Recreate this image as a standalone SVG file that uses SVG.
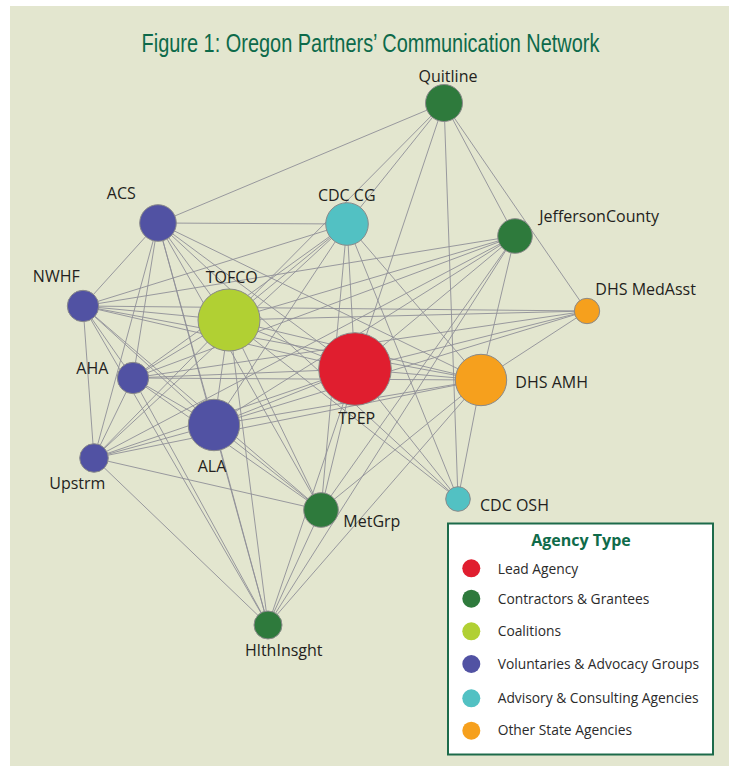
<svg xmlns="http://www.w3.org/2000/svg" width="729" height="766" viewBox="0 0 729 766">
<style>
.e{stroke:#8e8f97;stroke-width:0.9;fill:none}
.n{stroke:#8a8a8a;stroke-width:1}
.lbl{font-family:"Open Sans","Noto Sans","Liberation Sans",sans-serif;font-size:16px;fill:#231f20}
.leg{font-family:"Open Sans","Noto Sans","Liberation Sans",sans-serif;font-size:13.8px;fill:#2b2b2b}
.red{fill:#e01e2f}.dg{fill:#2e7a3c}.lime{fill:#b1d033}.blue{fill:#5152a3}.cyan{fill:#52c1c3}.org{fill:#f6a01d}
</style>
<rect x="10" y="6" width="719" height="760" fill="#e3e6cf"/>
<text transform="translate(370.5,52) scale(0.767,1)" x="0" y="0" text-anchor="middle" font-family="'Liberation Sans',Arial,sans-serif" font-size="26" fill="#0d6a4a">Figure 1: Oregon Partners’ Communication Network</text>
<g id="connectors">
<line class="e" x1="444" y1="103" x2="158" y2="223"/>
<line class="e" x1="444" y1="103" x2="347" y2="224"/>
<line class="e" x1="444" y1="103" x2="229" y2="320"/>
<line class="e" x1="444" y1="103" x2="355" y2="369"/>
<line class="e" x1="444" y1="103" x2="458" y2="499"/>
<line class="e" x1="444" y1="103" x2="515" y2="236"/>
<line class="e" x1="444" y1="103" x2="587" y2="311"/>
<line class="e" x1="158" y1="223" x2="347" y2="224"/>
<line class="e" x1="158" y1="223" x2="83" y2="306"/>
<line class="e" x1="158" y1="223" x2="133" y2="378"/>
<line class="e" x1="158" y1="223" x2="94" y2="458"/>
<line class="e" x1="158" y1="223" x2="214" y2="425"/>
<line class="e" x1="158" y1="223" x2="229" y2="320"/>
<line class="e" x1="158" y1="223" x2="355" y2="369"/>
<line class="e" x1="158" y1="223" x2="481" y2="380"/>
<line class="e" x1="158" y1="223" x2="458" y2="499"/>
<line class="e" x1="158" y1="223" x2="268" y2="625"/>
<line class="e" x1="158" y1="223" x2="321" y2="510"/>
<line class="e" x1="83" y1="306" x2="347" y2="224"/>
<line class="e" x1="83" y1="306" x2="229" y2="320"/>
<line class="e" x1="83" y1="306" x2="355" y2="369"/>
<line class="e" x1="83" y1="306" x2="481" y2="380"/>
<line class="e" x1="83" y1="306" x2="587" y2="311"/>
<line class="e" x1="83" y1="306" x2="133" y2="378"/>
<line class="e" x1="83" y1="306" x2="94" y2="458"/>
<line class="e" x1="83" y1="306" x2="214" y2="425"/>
<line class="e" x1="83" y1="306" x2="321" y2="510"/>
<line class="e" x1="83" y1="306" x2="268" y2="625"/>
<line class="e" x1="83" y1="306" x2="515" y2="236"/>
<line class="e" x1="229" y1="320" x2="347" y2="224"/>
<line class="e" x1="229" y1="320" x2="355" y2="369"/>
<line class="e" x1="229" y1="320" x2="481" y2="380"/>
<line class="e" x1="229" y1="320" x2="515" y2="236"/>
<line class="e" x1="229" y1="320" x2="587" y2="311"/>
<line class="e" x1="229" y1="320" x2="133" y2="378"/>
<line class="e" x1="229" y1="320" x2="214" y2="425"/>
<line class="e" x1="229" y1="320" x2="94" y2="458"/>
<line class="e" x1="229" y1="320" x2="321" y2="510"/>
<line class="e" x1="229" y1="320" x2="268" y2="625"/>
<line class="e" x1="229" y1="320" x2="458" y2="499"/>
<line class="e" x1="347" y1="224" x2="133" y2="378"/>
<line class="e" x1="347" y1="224" x2="214" y2="425"/>
<line class="e" x1="347" y1="224" x2="94" y2="458"/>
<line class="e" x1="347" y1="224" x2="355" y2="369"/>
<line class="e" x1="347" y1="224" x2="481" y2="380"/>
<line class="e" x1="347" y1="224" x2="458" y2="499"/>
<line class="e" x1="347" y1="224" x2="321" y2="510"/>
<line class="e" x1="515" y1="236" x2="355" y2="369"/>
<line class="e" x1="515" y1="236" x2="481" y2="380"/>
<line class="e" x1="515" y1="236" x2="214" y2="425"/>
<line class="e" x1="515" y1="236" x2="133" y2="378"/>
<line class="e" x1="515" y1="236" x2="94" y2="458"/>
<line class="e" x1="515" y1="236" x2="321" y2="510"/>
<line class="e" x1="515" y1="236" x2="268" y2="625"/>
<line class="e" x1="587" y1="311" x2="355" y2="369"/>
<line class="e" x1="587" y1="311" x2="481" y2="380"/>
<line class="e" x1="587" y1="311" x2="133" y2="378"/>
<line class="e" x1="587" y1="311" x2="214" y2="425"/>
<line class="e" x1="355" y1="369" x2="481" y2="380"/>
<line class="e" x1="355" y1="369" x2="133" y2="378"/>
<line class="e" x1="355" y1="369" x2="214" y2="425"/>
<line class="e" x1="355" y1="369" x2="94" y2="458"/>
<line class="e" x1="355" y1="369" x2="321" y2="510"/>
<line class="e" x1="355" y1="369" x2="268" y2="625"/>
<line class="e" x1="355" y1="369" x2="458" y2="499"/>
<line class="e" x1="481" y1="380" x2="133" y2="378"/>
<line class="e" x1="481" y1="380" x2="214" y2="425"/>
<line class="e" x1="481" y1="380" x2="321" y2="510"/>
<line class="e" x1="481" y1="380" x2="458" y2="499"/>
<line class="e" x1="481" y1="380" x2="268" y2="625"/>
<line class="e" x1="481" y1="380" x2="94" y2="458"/>
<line class="e" x1="133" y1="378" x2="214" y2="425"/>
<line class="e" x1="133" y1="378" x2="94" y2="458"/>
<line class="e" x1="133" y1="378" x2="321" y2="510"/>
<line class="e" x1="133" y1="378" x2="268" y2="625"/>
<line class="e" x1="214" y1="425" x2="94" y2="458"/>
<line class="e" x1="214" y1="425" x2="321" y2="510"/>
<line class="e" x1="214" y1="425" x2="268" y2="625"/>
<line class="e" x1="94" y1="458" x2="321" y2="510"/>
<line class="e" x1="94" y1="458" x2="268" y2="625"/>
<line class="e" x1="321" y1="510" x2="268" y2="625"/>
</g>
<g id="node-quitline"><circle class="n dg" cx="444" cy="103" r="18.5"/><text class="lbl" x="448" y="82" text-anchor="middle">Quitline</text></g>
<g id="node-acs"><circle class="n blue" cx="158" cy="223" r="18.3"/><text class="lbl" x="121.3" y="199" text-anchor="middle">ACS</text></g>
<g id="node-nwhf"><circle class="n blue" cx="83" cy="306" r="15.7"/><text class="lbl" x="56.3" y="282" text-anchor="middle">NWHF</text></g>
<g id="node-tofco"><circle class="n lime" cx="229" cy="320" r="31"/><text class="lbl" x="231.7" y="283" text-anchor="middle">TOFCO</text></g>
<g id="node-cdccg"><circle class="n cyan" cx="347" cy="224" r="21.3"/><text class="lbl" x="346.7" y="201" text-anchor="middle">CDC CG</text></g>
<g id="node-jefferson"><circle class="n dg" cx="515" cy="236" r="17.3"/><text class="lbl" x="539.3" y="222">JeffersonCounty</text></g>
<g id="node-medasst"><circle class="n org" cx="587" cy="311" r="12.7"/><text class="lbl" x="595.3" y="295">DHS MedAsst</text></g>
<g id="node-tpep"><circle class="n red" cx="355" cy="369" r="36.3"/><text class="lbl" x="356.7" y="424" text-anchor="middle">TPEP</text></g>
<g id="node-amh"><circle class="n org" cx="481" cy="380" r="25.7"/><text class="lbl" x="515.3" y="388">DHS AMH</text></g>
<g id="node-aha"><circle class="n blue" cx="133" cy="378" r="15.7"/><text class="lbl" x="92.3" y="374" text-anchor="middle">AHA</text></g>
<g id="node-ala"><circle class="n blue" cx="214" cy="425" r="25.7"/><text class="lbl" x="212" y="472" text-anchor="middle">ALA</text></g>
<g id="node-upstrm"><circle class="n blue" cx="94" cy="458" r="14.3"/><text class="lbl" x="77.3" y="489" text-anchor="middle">Upstrm</text></g>
<g id="node-metgrp"><circle class="n dg" cx="321" cy="510" r="17.3"/><text class="lbl" x="343.3" y="527">MetGrp</text></g>
<g id="node-hlthinsght"><circle class="n dg" cx="268" cy="625" r="14"/><text class="lbl" x="283.8" y="656" text-anchor="middle">HlthInsght</text></g>
<g id="node-cdcosh"><circle class="n cyan" cx="458" cy="499" r="12.3"/><text class="lbl" x="480" y="511">CDC OSH</text></g>
<g id="legend">
<rect x="448" y="523.5" width="265" height="231" fill="#ffffff" stroke="#1d6b4b" stroke-width="2"/>
<text x="581" y="546" text-anchor="middle" font-family="'Open Sans','Noto Sans','Liberation Sans',sans-serif" font-size="16" font-weight="bold" fill="#0f6b4a">Agency Type</text>
<circle class="red" cx="471.3" cy="568.3" r="9"/><text class="leg" x="497.7" y="573.5">Lead Agency</text>
<circle class="dg" cx="471.3" cy="598.7" r="9"/><text class="leg" x="497.7" y="603.5">Contractors &amp; Grantees</text>
<circle class="lime" cx="471.3" cy="631.3" r="9"/><text class="leg" x="497.7" y="636">Coalitions</text>
<circle class="blue" cx="471.3" cy="664" r="9"/><text class="leg" x="497.7" y="669">Voluntaries &amp; Advocacy Groups</text>
<circle class="cyan" cx="471.3" cy="698.3" r="9"/><text class="leg" x="497.7" y="703.3">Advisory &amp; Consulting Agencies</text>
<circle class="org" cx="471.3" cy="730.7" r="9"/><text class="leg" x="497.7" y="735">Other State Agencies</text>
</g>
</svg>
